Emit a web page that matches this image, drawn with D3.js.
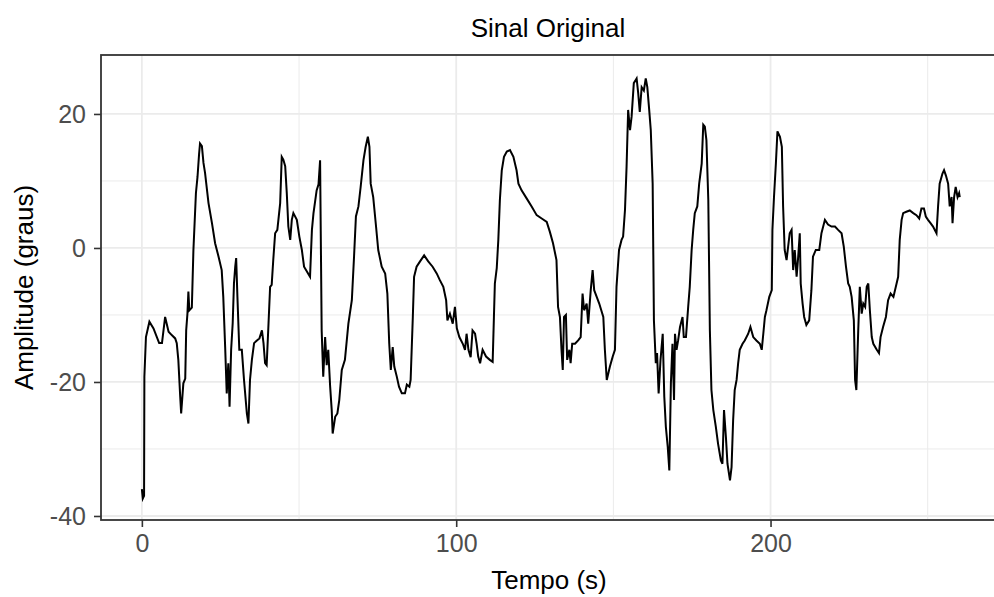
<!DOCTYPE html>
<html>
<head>
<meta charset="utf-8">
<script src="https://cdn.jsdelivr.net/npm/d3@7"></script>
<style>
  body { margin: 0; background: #fff; }
  svg { display: block; }
</style>
</head>
<body>
<div id="sinal"></div>
<script>
// Getting the data (tempo in s, amplitude in graus)
var tempo = [0, 0.3, 0.7, 0.8, 1.3, 2.4, 3.7, 5.5, 6.4, 7.4, 8.5, 9.5, 10.6, 11.1, 11.6, 12.2, 12.5, 13.2, 13.8, 14.1,
    14.5, 14.8, 15.1, 15.9, 16.4, 17.2, 17.7, 18.2, 18.5, 19.1, 19.6, 20.1, 21.2, 22.3, 23.3, 24.4, 25.4, 25.9, 26.5, 27.0,
    27.5, 27.9, 28.4, 28.9, 29.3, 29.7, 30.0, 30.4, 31.0, 31.8, 32.5, 33.4, 33.9, 34.4, 35.0, 35.7, 36.6, 37.4, 38.2, 38.7,
    39.2, 39.7, 40.3, 40.8, 41.3, 41.8, 42.4, 43.1, 44.0, 44.5, 45.0, 45.6, 46.1, 46.6, 47.2, 47.7, 48.2, 49.3, 50.1, 50.9,
    51.6, 52.5, 53.5, 54.1, 54.6, 55.6, 56.2, 56.7, 57.2, 57.7, 58.3, 58.8, 59.3, 59.9, 60.4, 60.7, 61.5, 62.2, 62.8, 63.6,
    64.6, 65.7, 66.8, 67.5, 68.1, 68.9, 69.6, 70.5, 71.2, 71.9, 72.4, 72.8, 73.6, 74.5, 75.2, 76.3, 77.4, 78.1, 78.7, 79.2,
    79.8, 80.3, 81.1, 81.8, 82.7, 83.7, 84.3, 85.1, 85.5, 86.2, 86.6, 87.4, 88.5, 89.8, 91.1, 92.5, 93.8, 94.8, 95.9, 96.8,
    97.2, 98.0, 98.9, 99.6, 100.2, 101.0, 102.1, 102.8, 103.3, 103.9, 104.6, 105.2, 106.0, 106.5, 107.0, 107.6, 108.4, 109.5, 110.7, 111.6,
    112.0, 112.3, 112.9, 113.4, 113.9, 114.5, 115.2, 116.1, 117.1, 118.2, 119.2, 119.8, 120.8, 122.4, 124.0, 125.6, 127.2, 128.8, 129.8, 130.8,
    131.9, 132.4, 133.0, 133.5, 133.9, 134.3, 134.9, 135.3, 136.0, 136.4, 136.9, 137.8, 138.8, 139.6, 140.2, 140.7, 141.5, 142.0, 142.8, 143.4,
    143.9, 144.7, 145.5, 146.8, 147.3, 147.9, 148.9, 149.8, 150.5, 151.0, 151.8, 152.6, 153.1, 153.7, 154.2, 154.7, 155.3, 155.8, 156.5, 157.4,
    157.9, 158.4, 159.0, 159.7, 160.3, 160.8, 161.4, 161.9, 162.5, 162.9, 163.5, 163.9, 164.4, 165.0, 165.7, 166.2, 166.7, 167.3, 167.8, 168.3,
    168.8, 169.3, 169.6, 170.1, 170.6, 171.2, 172.0, 172.4, 173.1, 173.8, 174.3, 174.9, 175.4, 175.9, 176.7, 177.3, 178.1, 178.6, 179.1, 179.6,
    180.2, 180.7, 181.2, 181.8, 182.6, 183.3, 184.2, 184.7, 185.2, 185.8, 186.3, 187.1, 187.6, 188.1, 188.6, 189.2, 189.7, 190.2, 191.1, 191.8,
    192.9, 193.6, 194.5, 195.5, 196.6, 197.2, 197.7, 198.2, 198.7, 199.6, 200.4, 200.6, 201.1, 201.7, 202.2, 203.0, 203.6, 204.0, 204.5, 205.1,
    205.6, 206.1, 206.7, 207.2, 207.7, 208.3, 208.8, 209.3, 209.6, 210.2, 210.7, 211.4, 212.3, 213.0, 213.5, 214.4, 215.5, 216.2, 217.3, 218.3,
    219.4, 220.5, 221.5, 222.6, 223.3, 224.0, 224.7, 225.2, 225.8, 226.5, 226.9, 227.3, 227.9, 228.4, 229.0, 229.5, 230.1, 230.6, 231.1, 231.6,
    232.2, 232.7, 233.8, 234.5, 235.0, 235.8, 236.7, 237.4, 238.2, 239.1, 240.1, 240.6, 241.1, 241.7, 242.2, 243.2, 244.3, 245.4, 246.4, 247.3,
    248.0, 248.8, 249.4, 250.1, 250.9, 251.7, 252.8, 253.3, 253.8, 254.7, 255.2, 255.8, 256.5, 257.0, 257.6, 257.9, 258.4, 258.9, 259.5, 260.0,
    260.2];

var amplitude = [-36, -37.4, -37.0, -19.2, -13.3, -11.0, -12.0, -14.2, -14.2, -10.3, -12.5, -13.0, -13.5, -14.2, -16.7, -22.2, -24.7, -20.2, -19.5, -12.3,
    -9.8, -6.5, -9.3, -8.9, -0.3, 8.2, 10.6, 14.0, 15.6, 15.2, 12.7, 11.2, 6.7, 3.7, 0.7, -1.3, -3.3, -7.3, -14.8, -21.7,
    -17.2, -23.7, -15.2, -11.2, -5.3, -2.8, -1.5, -7.3, -15.2, -15.2, -19.7, -24.7, -26.2, -19.7, -16.7, -14.2, -13.8, -13.5, -12.3, -14.2,
    -17.2, -17.5, -11.2, -5.8, -5.5, -1.8, 2.2, 2.7, 6.7, 13.6, 13.2, 12.2, 8.2, 3.2, 1.2, 4.2, 5.2, 4.2, 1.7, -0.3,
    -2.8, -3.5, -4.3, 2.7, 5.2, 8.6, 9.5, 13.1, -12.3, -19.2, -13.3, -17.5, -15.2, -20.7, -24.2, -27.7, -25.2, -24.7, -22.7, -18.2,
    -16.7, -11.3, -7.8, -1.3, 4.7, 6.2, 9.1, 13.1, 15.1, 16.6, 15.1, 9.6, 7.6, 3.2, -0.3, -2.8, -3.8, -6.8, -14.3, -18.2,
    -14.8, -17.7, -19.2, -20.7, -21.7, -21.7, -20.4, -20.7, -19.7, -10.3, -4.3, -2.8, -2.0, -1.1, -2.0, -2.8, -3.8, -4.8, -5.8, -7.8,
    -10.8, -9.8, -11.3, -8.8, -12.0, -13.3, -14.3, -15.2, -12.8, -15.2, -16.3, -12.3, -12.8, -14.3, -16.2, -17.2, -15.2, -16.2, -16.7, -17.0,
    -10.3, -5.3, -3.0, 1.2, 7.2, 11.6, 13.6, 14.4, 14.6, 13.6, 11.6, 9.6, 8.6, 7.4, 6.2, 4.9, 4.4, 3.9, 2.4, 0.7,
    -1.8, -8.8, -10.3, -15.2, -18.2, -10.3, -10.0, -16.7, -15.2, -17.2, -14.3, -14.3, -13.8, -13.3, -6.8, -9.3, -8.3, -11.3, -6.3, -3.3,
    -6.3, -7.3, -8.3, -10.3, -15.2, -19.7, -17.7, -16.2, -15.2, -5.8, -0.3, 1.2, 1.7, 5.7, 12.1, 20.6, 17.6, 19.6, 24.6, 25.3,
    23.1, 20.3, 24.0, 23.5, 25.3, 24.0, 20.6, 17.6, 9.6, -10.8, -17.2, -15.7, -21.7, -16.7, -12.8, -22.2, -26.7, -29.7, -33.2, -20.2,
    -14.3, -22.7, -12.8, -15.2, -13.8, -11.8, -10.3, -13.3, -13.3, -8.8, -5.8, -0.3, 2.7, 5.2, 6.2, 9.6, 12.6, 18.4, 18.1, 16.1,
    7.2, -12.3, -21.2, -24.2, -26.7, -29.2, -31.7, -32.2, -24.2, -28.2, -32.2, -34.7, -32.7, -25.7, -21.2, -19.7, -17.2, -15.2, -14.3, -13.8,
    -12.8, -11.8, -13.3, -13.8, -14.3, -15.2, -12.8, -10.3, -9.3, -7.3, -6.3, 2.7, 7.6, 12.6, 17.4, 16.6, 15.1, 6.2, -0.3, -1.8,
    0.2, 2.2, 2.7, -3.3, -0.3, -4.3, -1.3, 2.2, -5.3, -8.3, -10.3, -11.5, -10.8, -6.3, -1.3, -0.3, -0.3, 2.2, 4.2, 3.5,
    3.2, 3.2, 2.7, 2.2, 0.2, -2.8, -5.3, -5.8, -7.3, -10.8, -19.7, -21.2, -12.3, -5.8, -9.8, -8.3, -8.8, -5.8, -5.3, -9.3,
    -13.3, -14.3, -15.2, -15.7, -13.3, -11.8, -10.3, -7.8, -6.8, -7.3, -5.3, -4.3, 1.2, 4.2, 5.2, 5.4, 5.6, 5.2, 4.9, 4.4,
    5.9, 5.9, 4.7, 4.2, 3.7, 3.2, 2.2, 6.2, 9.6, 11.1, 11.6, 10.8, 9.6, 6.2, 7.6, 3.7, 7.6, 9.1, 7.6, 8.2,
    7.6];

var xMajor = [0, 100, 200];
var xMinor = [50, 150, 250];
var yMajor = [-40, -20, 0, 20];
var yMinor = [-30, -10, 10];

var data = tempo.map(function (t, i) { return { time: t, amp: amplitude[i] }; });

// Setting up the size and the panel area (panel runs past the right edge)
var W = 994, H = 597;
var panel = { left: 101, right: 1000, top: 55, bottom: 520 };
var FONT = '"Liberation Sans", Arial, sans-serif';

var svg = d3.select('#sinal').append('svg')
    .attr('width', W)
    .attr('height', H);

// Set the scales
var x = d3.scaleLinear().domain([-13, 273]).range([panel.left, panel.right]);
var y = d3.scaleLinear().domain([-40.6, 28.8]).range([panel.bottom, panel.top]);

// Grid lines
var grid = svg.append('g');
grid.selectAll('.xminor').data(xMinor).enter().append('line')
    .attr('x1', function (d) { return x(d); }).attr('x2', function (d) { return x(d); })
    .attr('y1', panel.top).attr('y2', panel.bottom)
    .attr('stroke', '#EBEBEB').attr('stroke-width', 1);
grid.selectAll('.yminor').data(yMinor).enter().append('line')
    .attr('x1', panel.left).attr('x2', panel.right)
    .attr('y1', function (d) { return y(d); }).attr('y2', function (d) { return y(d); })
    .attr('stroke', '#EBEBEB').attr('stroke-width', 1);
grid.selectAll('.xmajor').data(xMajor).enter().append('line')
    .attr('x1', function (d) { return x(d); }).attr('x2', function (d) { return x(d); })
    .attr('y1', panel.top).attr('y2', panel.bottom)
    .attr('stroke', '#EBEBEB').attr('stroke-width', 1.8);
grid.selectAll('.ymajor').data(yMajor).enter().append('line')
    .attr('x1', panel.left).attr('x2', panel.right)
    .attr('y1', function (d) { return y(d); }).attr('y2', function (d) { return y(d); })
    .attr('stroke', '#EBEBEB').attr('stroke-width', 1.8);

// Define and draw the line
var valueline = d3.line()
    .x(function (d) { return x(d.time); })
    .y(function (d) { return y(d.amp); });

svg.append('path')
    .datum(data)
    .attr('d', valueline)
    .attr('fill', 'none')
    .attr('stroke', '#000')
    .attr('stroke-width', 2);

// Panel border
svg.append('rect')
    .attr('x', panel.left).attr('y', panel.top)
    .attr('width', panel.right - panel.left).attr('height', panel.bottom - panel.top)
    .attr('fill', 'none')
    .attr('stroke', '#333333')
    .attr('stroke-width', 1.8);

// Add the axes (plain hyphen for negatives, like the original)
var fmt = function (d) { return String(d); };

var xAxis = svg.append('g')
    .attr('transform', 'translate(0,' + panel.bottom + ')')
    .call(d3.axisBottom(x).tickValues(xMajor).tickSize(7).tickPadding(7).tickFormat(fmt));

var yAxis = svg.append('g')
    .attr('transform', 'translate(' + panel.left + ',0)')
    .call(d3.axisLeft(y).tickValues(yMajor).tickSize(7).tickPadding(8).tickFormat(fmt));

[xAxis, yAxis].forEach(function (a) {
    a.select('.domain').remove();
    a.selectAll('line').attr('stroke', '#333333').attr('stroke-width', 1.6);
    a.selectAll('text')
        .attr('fill', '#4D4D4D')
        .style('font', 'normal 25px ' + FONT);
});
yAxis.selectAll('text').attr('dy', '0.35em');

// Title
svg.append('text')
    .attr('x', 548)
    .attr('y', 37)
    .style('text-anchor', 'middle')
    .style('font', 'normal 26px ' + FONT)
    .attr('fill', '#000')
    .text('Sinal Original');

// X axis label
svg.append('text')
    .attr('x', 549)
    .attr('y', 589)
    .style('text-anchor', 'middle')
    .style('font', 'normal 26px ' + FONT)
    .attr('fill', '#000')
    .text('Tempo (s)');

// Y axis label
svg.append('text')
    .attr('transform', 'rotate(-90)')
    .attr('x', -(panel.top + panel.bottom) / 2)
    .attr('y', 33)
    .style('text-anchor', 'middle')
    .style('font', 'normal 26px ' + FONT)
    .attr('fill', '#000')
    .text('Amplitude (graus)');
</script>
</body>
</html>
